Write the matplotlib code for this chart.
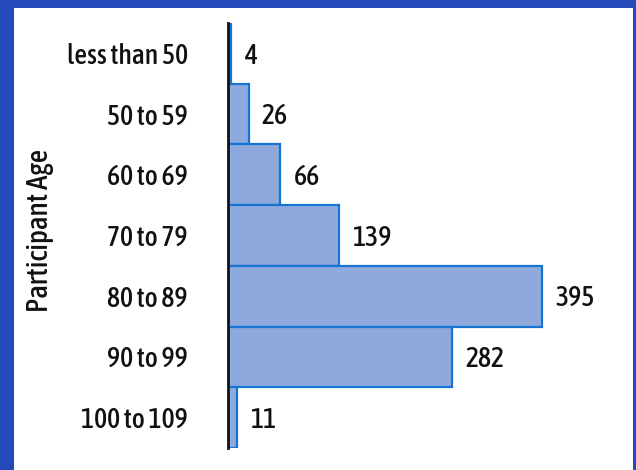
import matplotlib.pyplot as plt
from matplotlib.patches import Rectangle

age_groups = ['less than 50', '50 to 59', '60 to 69', '70 to 79',
              '80 to 89', '90 to 99', '100 to 109']
counts = [4, 26, 66, 139, 395, 282, 11]

W, H = 636, 470
plt.rcParams['font.family'] = ['Asap Condensed', 'DejaVu Sans']
plt.rcParams['font.weight'] = 500

fig = plt.figure(figsize=(W / 100, H / 100), dpi=100)
fig.patch.set_facecolor('#2449b9')
# white panel inside the blue frame
fig.patches.append(Rectangle((14 / W, 0), (633 - 14) / W, (H - 8) / H,
                             transform=fig.transFigure, facecolor='white',
                             edgecolor='none', zorder=-10))

ax = fig.add_axes([228 / W, 22 / H, 392 / W, 425 / H])
ax.set_facecolor('none')
ax.barh(range(len(counts)), counts, height=1.0, color='#8eaadd',
        edgecolor='#1874d2', linewidth=1.6, zorder=2)
ax.set_ylim(len(counts) - 0.5, -0.5)
ax.set_xlim(0, 392 / 0.795)

for i, c in enumerate(counts):
    ax.annotate(str(c), (c, i), xytext=(9.5, -2), textcoords='offset points',
                ha='left', va='center', fontsize=20, color='#111111')

ax.set_yticks(range(len(age_groups)))
ax.set_yticklabels(age_groups, fontsize=20, color='#111111')
ax.tick_params(axis='y', length=0, pad=29)
ax.set_xticks([])
for s in ['top', 'right', 'bottom']:
    ax.spines[s].set_visible(False)
ax.spines['left'].set_linewidth(2)
ax.spines['left'].set_color('#111111')
ax.spines['left'].set_zorder(3)

fig.text(40 / W, 1 - 230 / H, 'Participant Age', rotation=90, ha='center',
         va='center', fontsize=21, color='#111111')

fig.savefig('out.png', dpi=100, facecolor=fig.get_facecolor())
